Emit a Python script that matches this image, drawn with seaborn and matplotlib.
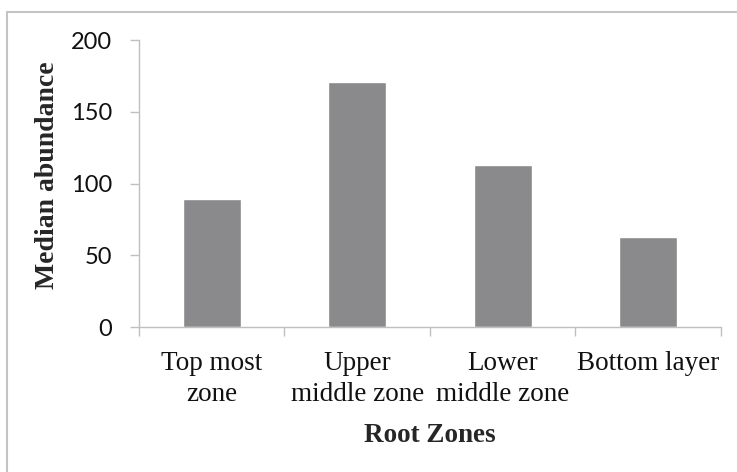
import numpy as np
import pandas as pd
import seaborn as sns
import matplotlib.pyplot as plt
from matplotlib.patches import Rectangle

# data
zones = ['Top most\nzone', 'Upper\nmiddle zone', 'Lower\nmiddle zone', 'Bottom layer']
median_abundance = [89, 171, 113, 63]
y_ticks = [0, 50, 100, 150, 200]

df = pd.DataFrame({'zone': zones, 'value': median_abundance})

sns.set_style('white')
plt.rcParams['font.family'] = ['Liberation Serif', 'DejaVu Serif']

fig = plt.figure(figsize=(7.37, 4.72), dpi=100)
ax = fig.add_axes([0.1886, 0.307, 0.7894, 0.608])

sns.barplot(data=df, x='zone', y='value', color='#8a8a8d', width=0.4,
            saturation=1, ax=ax)

ax.set_ylim(0, 200)
ax.set_xlim(-0.5, len(zones) - 0.5)
ax.set_yticks(y_ticks)
ax.set_yticklabels([str(v) for v in y_ticks], family='Lato', fontsize=17)
ax.tick_params(axis='y', which='major', left=True, length=6.5, color='#bfbfbf',
               width=1, pad=13, labelcolor='#111111')

# category labels under the bars, ticks on the category edges
ax.tick_params(axis='x', which='major', bottom=True, length=0, pad=17,
               labelsize=19.5, labelcolor='#111111')
for lab in ax.get_xticklabels():
    lab.set_linespacing(1.35)
ax.set_xticks(np.arange(len(zones) + 1) - 0.5, minor=True)
ax.tick_params(axis='x', which='minor', bottom=True, length=6.5,
               color='#bfbfbf', width=1)

for side in ['top', 'right']:
    ax.spines[side].set_visible(False)
for side in ['left', 'bottom']:
    ax.spines[side].set_color('#bfbfbf')
    ax.spines[side].set_linewidth(1)

ax.set_xlabel('Root Zones', fontsize=19.5, fontweight='bold', labelpad=11)
ax.set_ylabel('Median abundance', fontsize=20, fontweight='bold', labelpad=7.5)
ax.yaxis.label.set_y(0.528)

# light frame line on the top and left of the chart
fig.patches.append(Rectangle((7 / 737, -0.05), 1.1, 1.05 - 11.5 / 472,
                             transform=fig.transFigure, fill=False,
                             edgecolor='#c4c4c4', linewidth=1.5))

fig.savefig('out.png', dpi=100)
